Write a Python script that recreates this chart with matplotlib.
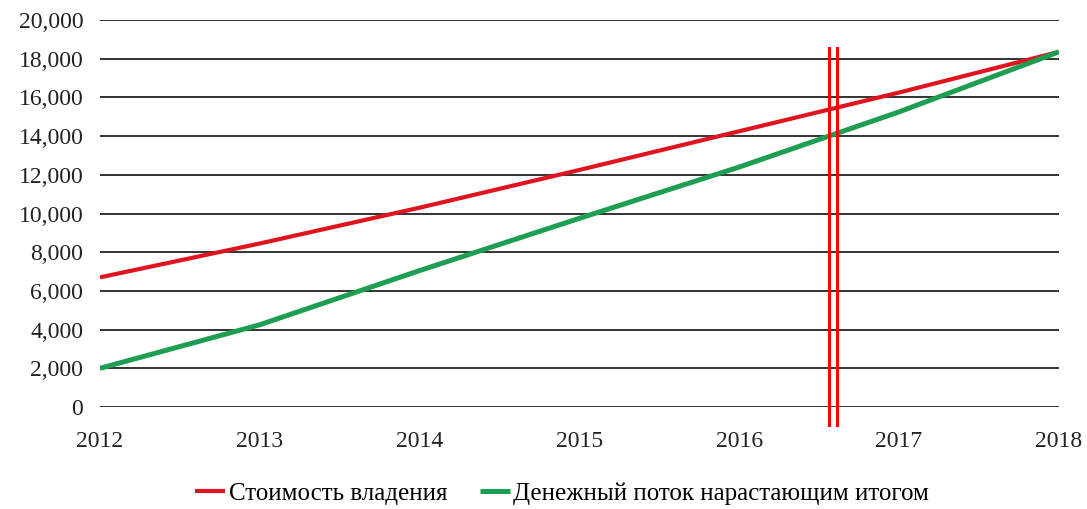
import matplotlib
matplotlib.use("Agg")
import matplotlib.pyplot as plt
from matplotlib.ticker import FuncFormatter

years = [2012, 2013, 2014, 2015, 2016, 2017, 2018]
ownership_cost = [6700, 8450, 10300, 12250, 14250, 16250, 18350]
cumulative_cash = [2000, 4250, 7050, 9750, 12400, 15250, 18350]
series_labels = ["Стоимость владения", "Денежный поток нарастающим итогом"]
y_ticks = list(range(0, 20001, 2000))
marker_x = [2016.565, 2016.61]

plt.rcParams['font.family'] = ['Liberation Serif', 'DejaVu Serif']

fig = plt.figure(figsize=(10.87, 5.09), dpi=100)
ax = fig.add_axes([0.092, 0.2004, 0.882, 0.7603])

for yv in y_ticks:
    ax.axhline(yv, color='#333333', lw=1.4, zorder=1)

l1, = ax.plot(years, ownership_cost, color='#E0141E', lw=3.0, zorder=3,
              solid_capstyle='butt', label=series_labels[0])
l2, = ax.plot(years, cumulative_cash, color='#1E9E50', lw=3.6, zorder=3,
              solid_capstyle='butt', label=series_labels[1])

for xv in marker_x:
    ax.plot([xv, xv], [18550, -930], color='#FF0000', lw=2.2, zorder=4,
            clip_on=False)

ax.set_xlim(2012, 2018)
ax.set_ylim(0, 20000)
ax.set_xticks(years)
ax.set_yticks(y_ticks)
ax.yaxis.set_major_formatter(FuncFormatter(lambda v, p: f"{int(v):,}"))
for s in ax.spines.values():
    s.set_visible(False)
ax.tick_params(axis='both', length=0, labelsize=17, colors='#222222')
ax.tick_params(axis='y', pad=12)
ax.tick_params(axis='x', pad=17)

fig.legend(handles=[l1, l2], loc='center', bbox_to_anchor=(0.517, 0.03),
           ncol=2, frameon=False, fontsize=18, handlelength=1.2,
           handletextpad=0.15, columnspacing=1.3)

fig.savefig("out.png", dpi=100)
